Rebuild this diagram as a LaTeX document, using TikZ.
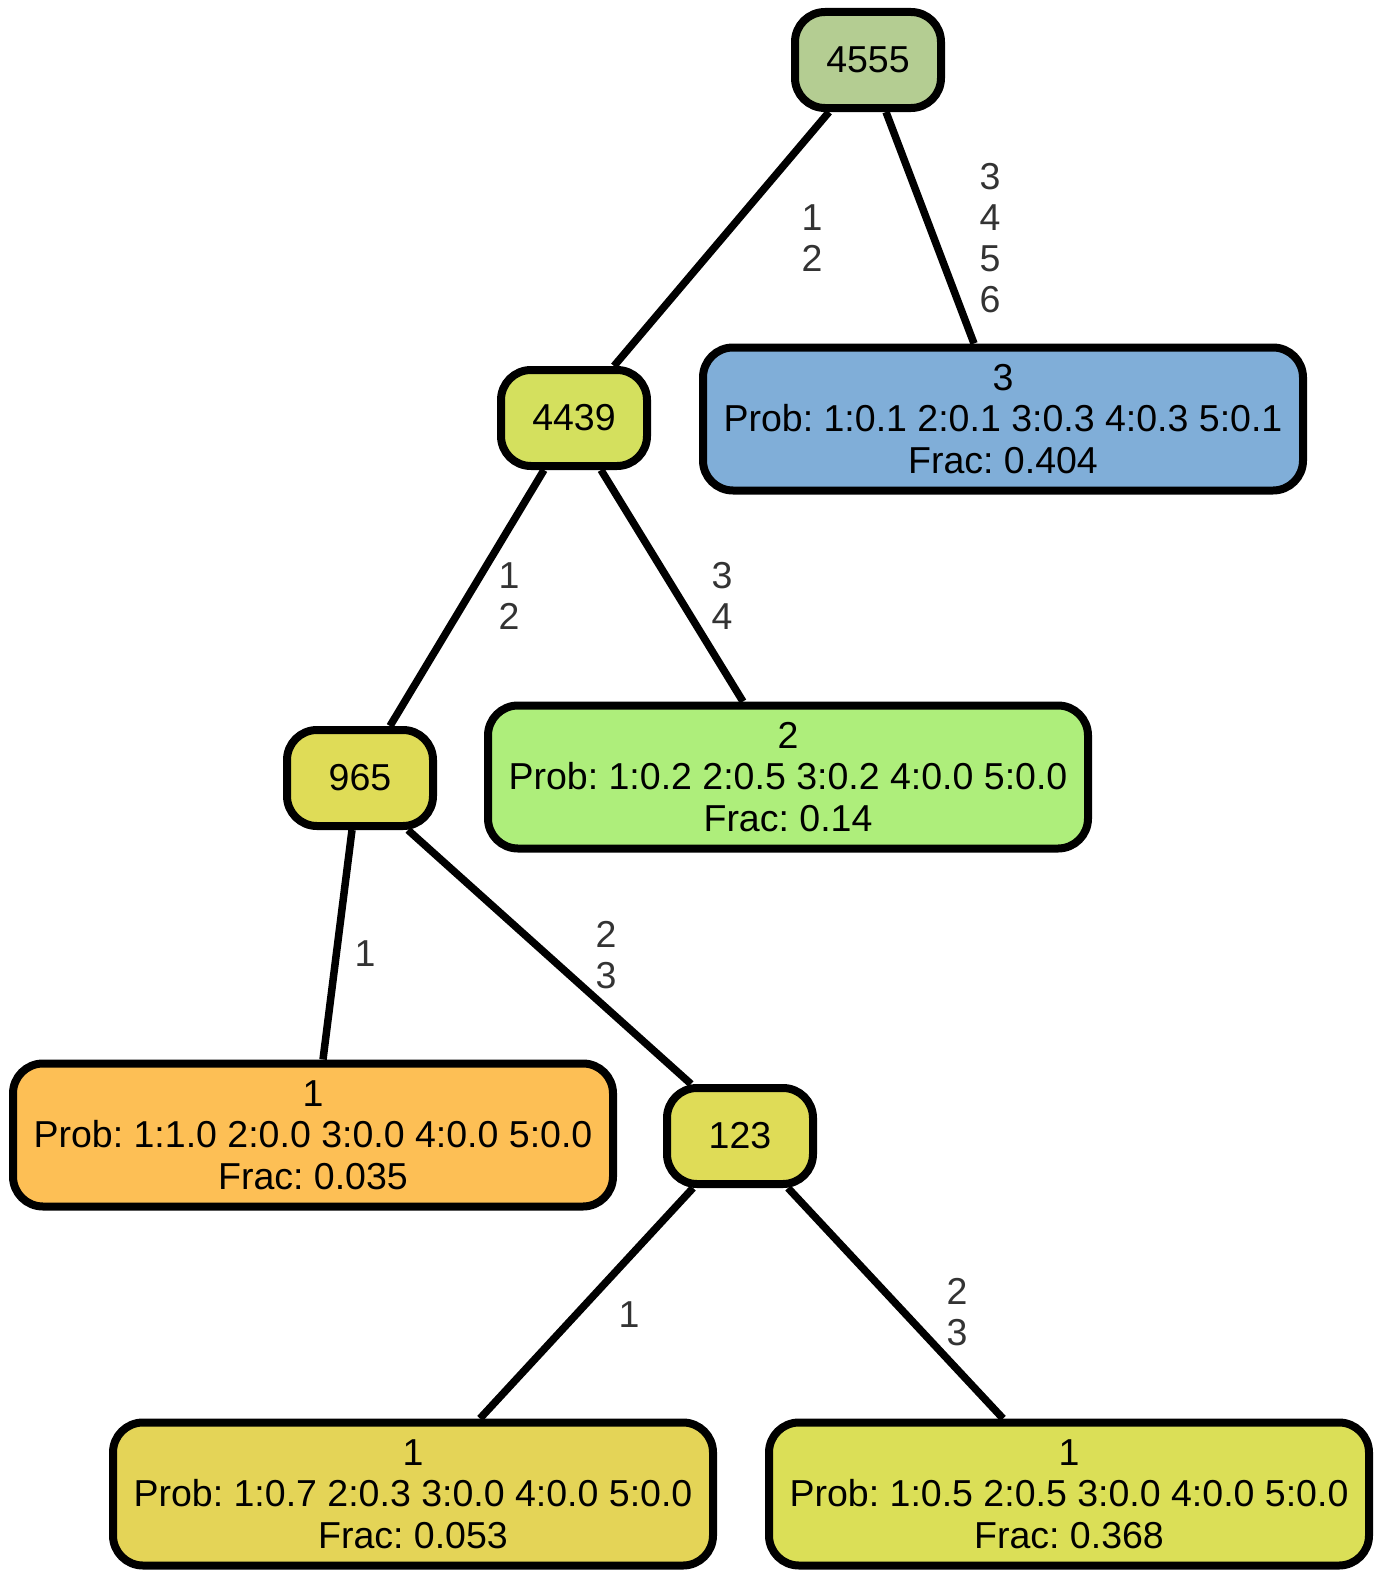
\documentclass[tikz,border=0pt]{standalone}
\usepackage{fontspec}
\setmainfont{Liberation Sans}
\frenchspacing
\pgfdeclarelayer{background}
\pgfsetlayers{background,main}
\definecolor{cA}{HTML}{B4CD92}
\definecolor{cB}{HTML}{D4E05E}
\definecolor{cC}{HTML}{80AED8}
\definecolor{cD}{HTML}{DFDC57}
\definecolor{cE}{HTML}{AEEE7B}
\definecolor{cF}{HTML}{FDBF55}
\definecolor{cG}{HTML}{DFDC57}
\definecolor{cH}{HTML}{E4D457}
\definecolor{cI}{HTML}{DBDF57}
\definecolor{lbl}{HTML}{333333}
\tikzset{
  tnode/.style={draw=black, line width=8pt, rounded corners=30pt, inner sep=0pt, align=center,
    font=\fontsize{37.5}{41.6}\selectfont},
  small/.style={tnode, minimum width=146pt, minimum height=96pt},
  big/.style={tnode, minimum width=600pt, minimum height=143pt},
  edge/.style={draw=black, line width=7.5pt},
  elabel/.style={align=center, text=lbl, inner sep=0pt, font=\fontsize{37.5}{41}\selectfont}
}
\begin{document}
\begin{tikzpicture}[x=1pt,y=-1pt]
\useasboundingbox (0,0) rectangle (1383,1579);
\node[small, fill=cA] (n4555) at (868,60) {4555};
\node[small, fill=cB] (n4439) at (574,418) {4439};
\node[big, fill=cC] (n3) at (1003,419) {3\\Prob: 1:0.1 2:0.1 3:0.3 4:0.3 5:0.1\\Frac: 0.404};
\node[small, fill=cD] (n965) at (360,778) {965};
\node[big, fill=cE] (n2) at (788,777) {2\\Prob: 1:0.2 2:0.5 3:0.2 4:0.0 5:0.0\\Frac: 0.14};
\node[big, fill=cF] (n1a) at (313,1135) {1\\Prob: 1:1.0 2:0.0 3:0.0 4:0.0 5:0.0\\Frac: 0.035};
\node[small, fill=cG] (n123) at (740,1136) {123};
\node[big, fill=cH] (n1b) at (413,1494) {1\\Prob: 1:0.7 2:0.3 3:0.0 4:0.0 5:0.0\\Frac: 0.053};
\node[big, fill=cI] (n1c) at (1069,1494) {1\\Prob: 1:0.5 2:0.5 3:0.0 4:0.0 5:0.0\\Frac: 0.368};
\begin{pgfonlayer}{background}
\draw[edge] ([xshift=-39pt]n4555.south) -- ([xshift=40pt]n4439.north);
\draw[edge] ([xshift=18pt]n4555.south) -- ([xshift=-29pt]n3.north);
\draw[edge] ([xshift=-30pt]n4439.south) -- ([xshift=30pt]n965.north);
\draw[edge] ([xshift=27pt]n4439.south) -- ([xshift=-45pt]n2.north);
\draw[edge] ([xshift=-8pt]n965.south) -- ([xshift=10pt]n1a.north);
\draw[edge] ([xshift=48pt]n965.south) -- ([xshift=-49pt]n123.north);
\draw[edge] ([xshift=-47pt]n123.south) -- ([xshift=67pt]n1b.north);
\draw[edge] ([xshift=48pt]n123.south) -- ([xshift=-66pt]n1c.north);
\end{pgfonlayer}
\node[elabel] (l1) at (812,238) {1\\2};
\node[elabel] (l2) at (990,238) {3\\4\\5\\6};
\node[elabel] (l3) at (509,596) {1\\2};
\node[elabel] (l4) at (722,596) {3\\4};
\node[elabel] (l5) at (365,954) {1};
\node[elabel] (l6) at (606,955) {2\\3};
\node[elabel] (l7) at (629,1315) {1};
\node[elabel] (l8) at (957,1312) {2\\3};
\end{tikzpicture}
\end{document}
